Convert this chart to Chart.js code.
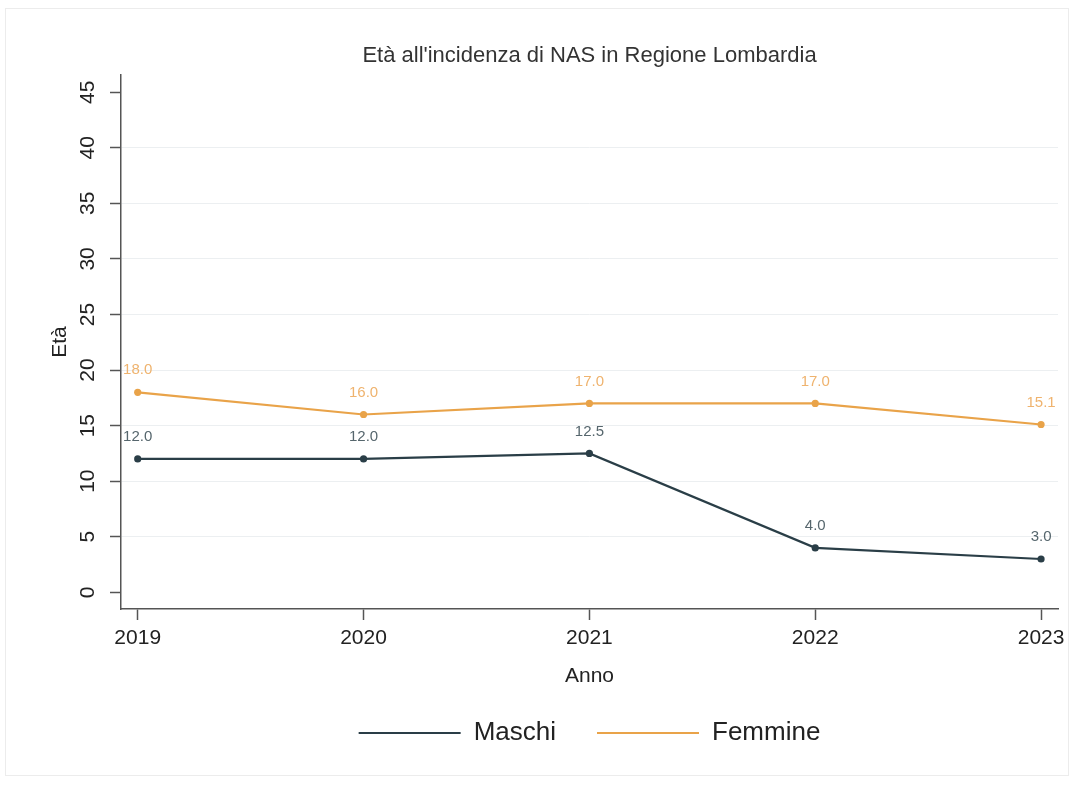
<!DOCTYPE html>
<html>
<head>
<meta charset="utf-8">
<script src="https://cdn.jsdelivr.net/npm/chart.js@4/dist/chart.umd.min.js"></script>
<style>
  html, body { margin: 0; padding: 0; background: #ffffff; }
  #wrap { position: relative; width: 1078px; height: 787px; overflow: hidden; }
  #frame { position: absolute; left: 5px; top: 8px; width: 1064px; height: 768px; border: 1px solid #ececec; box-sizing: border-box; }
  canvas { position: absolute; left: 0; top: 0; }
</style>
</head>
<body>
<div id="wrap">
  <div id="frame"></div>
  <canvas id="c" width="1078" height="787"></canvas>
</div>
<script>
// ---- data ----
const years = [2019, 2020, 2021, 2022, 2023];
const maschi = [12.0, 12.0, 12.5, 4.0, 3.0];
const femmine = [18.0, 16.0, 17.0, 17.0, 15.1];
const yTicks = [0, 5, 10, 15, 20, 25, 30, 35, 40, 45];
const seriesNames = ['Maschi', 'Femmine'];
const chartTitle = "Età all'incidenza di NAS in Regione Lombardia";
const xTitle = 'Anno';
const yTitle = 'Età';

const FONT = "'Liberation Sans', Arial, Helvetica, sans-serif";
const colMaschi = '#2a3e47';
const colFemmine = '#e9a349';
const lblMaschi = '#56666d';
const lblFemmine = '#efb36e';

const toPts = (vals) => years.map((y, i) => ({ x: y, y: vals[i] }));

const valueLabels = {
  id: 'valueLabels',
  afterDatasetsDraw(chart) {
    const ctx = chart.ctx;
    ctx.save();
    ctx.font = '15px ' + FONT;
    ctx.textAlign = 'center';
    ctx.textBaseline = 'middle';
    chart.data.datasets.forEach((ds, di) => {
      const meta = chart.getDatasetMeta(di);
      ctx.fillStyle = ds.labelColor;
      meta.data.forEach((pt, i) => {
        ctx.fillText(ds.data[i].y.toFixed(1), pt.x, pt.y - 22);
      });
    });
    ctx.restore();
  }
};

new Chart(document.getElementById('c'), {
  type: 'line',
  data: {
    datasets: [
      {
        label: seriesNames[0],
        data: toPts(maschi),
        borderColor: colMaschi,
        backgroundColor: colMaschi,
        borderWidth: 2.2,
        pointRadius: 3.6,
        pointBorderWidth: 0,
        labelColor: lblMaschi,
        tension: 0
      },
      {
        label: seriesNames[1],
        data: toPts(femmine),
        borderColor: colFemmine,
        backgroundColor: colFemmine,
        borderWidth: 2.2,
        pointRadius: 3.6,
        pointBorderWidth: 0,
        labelColor: lblFemmine,
        tension: 0
      }
    ]
  },
  options: {
    responsive: false,
    animation: false,
    layout: { padding: { left: 0, right: 20, top: 0, bottom: 31 } },
    plugins: {
      tooltip: { enabled: false },
      title: {
        display: true,
        text: chartTitle,
        fullSize: false,
        color: '#333333',
        font: { family: FONT, size: 22, weight: 'normal' },
        padding: { top: 42.8, bottom: 5.8 }
      },
      legend: {
        position: 'bottom',
        fullSize: false,
        labels: {
          color: '#222222',
          font: { family: FONT, size: 26 },
          boxWidth: 102,
          boxHeight: 2,
          padding: 41,
          generateLabels(chart) {
            return Chart.defaults.plugins.legend.labels.generateLabels(chart).map(l => {
              l.lineWidth = 0;
              return l;
            });
          }
        }
      }
    },
    scales: {
      x: {
        type: 'linear',
        min: 2018.926,
        max: 2023.075,
        afterBuildTicks(s) { s.ticks = years.map(v => ({ value: v })); },
        afterFit(s) { s.height = 70; },
        ticks: {
          color: '#222222',
          font: { family: FONT, size: 21 },
          padding: 6,
          maxRotation: 0,
          autoSkip: false,
          callback: v => String(v)
        },
        grid: {
          drawOnChartArea: false,
          drawTicks: true,
          tickLength: 11,
          tickColor: '#555555',
          tickWidth: 1.5
        },
        border: { display: true, color: '#555555', width: 1.5 },
        title: {
          display: true,
          text: xTitle,
          color: '#222222',
          font: { family: FONT, size: 21 },
          padding: { top: 0, bottom: -9.6 }
        }
      },
      y: {
        type: 'linear',
        min: -1.5,
        max: 46.55,
        afterBuildTicks(s) { s.ticks = yTicks.map(v => ({ value: v })); },
        afterFit(s) { s.width = 121; },
        ticks: {
          color: '#222222',
          font: { family: FONT, size: 21 },
          padding: 10.3,
          minRotation: 90,
          maxRotation: 90,
          crossAlign: 'center',
          autoSkip: false,
          callback: v => String(v)
        },
        grid: {
          drawTicks: true,
          tickLength: 11,
          tickColor: '#555555',
          tickWidth: 1.5,
          lineWidth: 1,
          color: c => (c.tick && (c.tick.value === 0 || c.tick.value === 45)) ? 'rgba(0,0,0,0)' : '#eceff1'
        },
        border: { display: true, color: '#555555', width: 1.5 },
        title: {
          display: true,
          text: yTitle,
          color: '#222222',
          font: { family: FONT, size: 21 },
          padding: { top: 47.4, bottom: 0 }
        }
      }
    }
  },
  plugins: [valueLabels]
});
</script>
</body>
</html>
